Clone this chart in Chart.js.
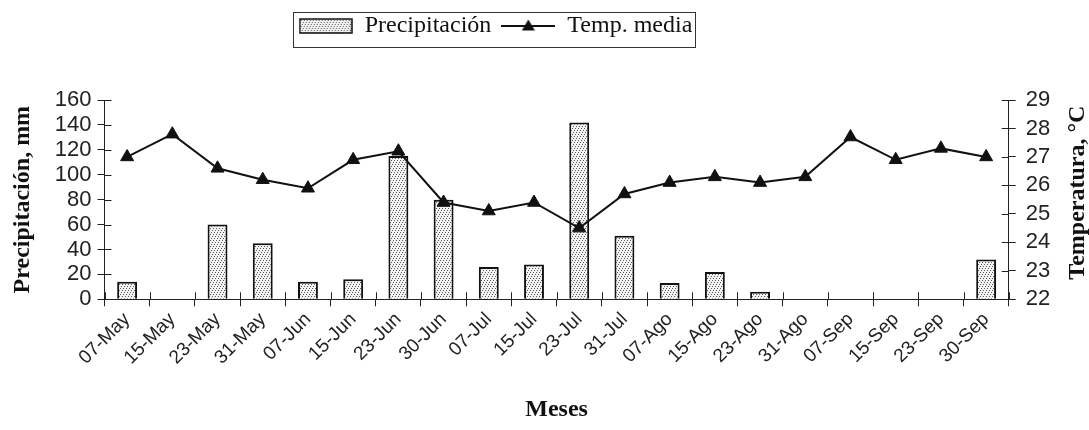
<!DOCTYPE html>
<html><head><meta charset="utf-8">
<script src="https://cdn.jsdelivr.net/npm/chart.js@4.4.1/dist/chart.umd.min.js"></script>
<style>html,body{margin:0;padding:0;background:#fff}#wrap{width:1089px;height:430px;position:relative}</style>
</head><body><div id="wrap"><canvas id="c"></canvas></div>
<script>
const categories = ['07-May','15-May','23-May','31-May','07-Jun','15-Jun','23-Jun','30-Jun','07-Jul','15-Jul','23-Jul','31-Jul','07-Ago','15-Ago','23-Ago','31-Ago','07-Sep','15-Sep','23-Sep','30-Sep'];
const precipitation = [14, 0, 60, 45, 14, 16, 115, 80, 26, 28, 142, 51, 13, 22, 6, 0, 0, 0, 0, 32];
const temperature = [27.0, 27.8, 26.6, 26.2, 25.9, 26.9, 27.2, 25.4, 25.1, 25.4, 24.5, 25.7, 26.1, 26.3, 26.1, 26.3, 27.7, 26.9, 27.3, 27.0];
const seriesNames = ['Precipitación', 'Temp. media'];
const axisTitles = {x: 'Meses', y: 'Precipitación, mm', y1: 'Temperatura, °C'};

const LEGEND_SHIFT = -53;

function patternOn(g) {
  const c = document.createElement('canvas'); c.width = 6; c.height = 6;
  const p = c.getContext('2d');
  p.fillStyle = '#f2f2f2'; p.fillRect(0, 0, 6, 6);
  p.fillStyle = '#5a5a5a';
  p.fillRect(0, 0, 1, 1); p.fillRect(2, 2, 1, 1); p.fillRect(4, 4, 1, 1);
  p.fillRect(3, 0, 1, 1); p.fillRect(5, 2, 1, 1); p.fillRect(1, 4, 1, 1);
  return g.createPattern(c, 'repeat');
}
const ctxMain = document.getElementById('c').getContext('2d');
const pattern = patternOn(ctxMain);

function barSwatch() {
  const c = document.createElement('canvas'); c.width = 54; c.height = 16;
  const g = c.getContext('2d');
  g.fillStyle = patternOn(g); g.fillRect(1, 1, 52, 14);
  g.strokeStyle = '#111'; g.lineWidth = 1.5; g.strokeRect(1, 1, 52, 14);
  return c;
}
function lineSwatch() {
  const c = document.createElement('canvas'); c.width = 54; c.height = 16;
  const g = c.getContext('2d');
  g.strokeStyle = '#111'; g.lineWidth = 2;
  g.beginPath(); g.moveTo(0, 8); g.lineTo(54, 8); g.stroke();
  g.fillStyle = '#111';
  g.beginPath(); g.moveTo(27, 1.5); g.lineTo(33.5, 12.5); g.lineTo(20.5, 12.5); g.closePath(); g.fill();
  return c;
}

const layoutPlugin = {
  id: 'layoutTweaks',
  beforeInit(chart) {
    const lg = chart.legend;
    if (lg) {
      const fit = lg.fit;
      lg.fit = function () { fit.call(this); this.height += 52; };
    }
  },
  afterLayout(chart) {
    const lg = chart.legend;
    lg.left += LEGEND_SHIFT; lg.right += LEGEND_SHIFT;
  },
  afterDraw(chart) {
    const g = chart.ctx;
    const lg = chart.legend;
    const hb = lg.legendHitBoxes;
    if (hb && hb.length) {
      const x0 = hb[0].left - 6;
      const last = hb[hb.length - 1];
      const x1 = last.left + last.width + 2;
      g.save(); g.strokeStyle = '#333'; g.lineWidth = 1;
      g.strokeRect(Math.round(x0) + 0.5, 12.5, Math.round(x1 - x0), 35);
      g.restore();
    }
    const ca = chart.chartArea;
    const ys = chart.scales.y, y1 = chart.scales.y1, xs = chart.scales.x;
    g.save(); g.strokeStyle = '#222'; g.lineWidth = 1;
    g.beginPath();
    ys.ticks.forEach(t => { const py = Math.round(ys.getPixelForValue(t.value)) + 0.5; g.moveTo(ca.left, py); g.lineTo(ca.left + 7, py); });
    y1.ticks.forEach(t => { const py = Math.round(y1.getPixelForValue(t.value)) + 0.5; g.moveTo(ca.right, py); g.lineTo(ca.right - 7, py); });
    for (let i = 0; i <= categories.length; i++) {
      const px = Math.round(xs.getPixelForValue(i - 0.5)) + 0.5;
      g.moveTo(px, ca.bottom); g.lineTo(px, ca.bottom - 7);
    }
    g.stroke();
    g.fillStyle = '#111';
    g.font = 'bold 24px "Liberation Serif"';
    g.textAlign = 'center'; g.textBaseline = 'middle';
    g.translate(chart.width - 11, (ca.top + ca.bottom) / 2 - 7);
    g.rotate(-Math.PI / 2);
    g.fillText(axisTitles.y1, 0, 0);
    g.restore();
  }
};

new Chart(ctxMain, {
  data: {
    labels: categories,
    datasets: [
      {
        type: 'line', label: seriesNames[1], data: temperature, yAxisID: 'y1',
        borderColor: '#111', borderWidth: 2, backgroundColor: '#111',
        pointStyle: 'triangle', pointRadius: 7.5, pointBackgroundColor: '#111', pointBorderColor: '#111', pointBorderWidth: 1,
        tension: 0, order: 0
      },
      {
        type: 'bar', label: seriesNames[0], data: precipitation, yAxisID: 'y',
        backgroundColor: pattern, borderColor: '#111', borderWidth: 2,
        categoryPercentage: 1, barPercentage: 0.44, order: 1
      }
    ]
  },
  options: {
    responsive: true, maintainAspectRatio: false, animation: false,
    devicePixelRatio: 1,
    layout: {padding: {left: 8, right: 0, top: 4, bottom: 6}},
    plugins: {
      tooltip: {enabled: false},
      legend: {
        position: 'top',
        labels: {
          usePointStyle: true, pointStyleWidth: 54, padding: 10,
          color: '#111', font: {family: '"Liberation Serif"', size: 24},
          generateLabels: () => [
            {text: seriesNames[0], pointStyle: barSwatch(), datasetIndex: 1, hidden: false, fillStyle: '#eee', strokeStyle: '#111', lineWidth: 0, fontColor: '#111'},
            {text: seriesNames[1], pointStyle: lineSwatch(), datasetIndex: 0, hidden: false, fillStyle: '#111', strokeStyle: '#111', lineWidth: 0, fontColor: '#111'}
          ]
        }
      }
    },
    scales: {
      x: {
        offset: true,
        grid: {display: true, offset: true, drawOnChartArea: false, drawTicks: true, tickLength: 7, color: '#222'},
        border: {display: true, color: '#222', width: 1},
        ticks: {maxRotation: 45, minRotation: 45, autoSkip: false, color: '#222', padding: 2, font: {family: '"Liberation Sans"', size: 19}},
        title: {display: true, text: axisTitles.x, color: '#111', padding: {top: 24, bottom: 0}, font: {family: '"Liberation Serif"', size: 24, weight: 'bold'}}
      },
      y: {
        position: 'left', min: 0, max: 160,
        grid: {drawOnChartArea: false, drawTicks: true, tickLength: 7, color: '#222'},
        border: {display: true, color: '#222', width: 1},
        ticks: {stepSize: 20, autoSkip: false, color: '#222', padding: 6, font: {family: '"Liberation Sans"', size: 22}},
        title: {display: true, text: axisTitles.y, color: '#111', padding: {top: 0, bottom: 12}, font: {family: '"Liberation Serif"', size: 24, weight: 'bold'}}
      },
      y1: {
        position: 'right', min: 22, max: 29,
        grid: {drawOnChartArea: false, drawTicks: true, tickLength: 7, color: '#222'},
        border: {display: true, color: '#222', width: 1},
        ticks: {stepSize: 1, autoSkip: false, color: '#222', padding: 10, font: {family: '"Liberation Sans"', size: 22}},
        title: {display: true, text: axisTitles.y1, color: 'rgba(0,0,0,0)', padding: {top: 0, bottom: 0}, font: {family: '"Liberation Serif"', size: 24, weight: 'bold'}}
      }
    }
  },
  plugins: [layoutPlugin]
});
</script>
</body></html>
